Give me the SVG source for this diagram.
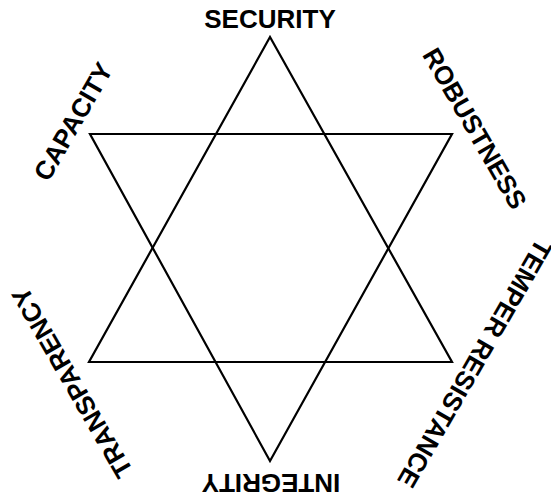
<svg xmlns="http://www.w3.org/2000/svg" width="551" height="500" viewBox="0 0 551 500">
<style>
.lbl{font-family:"Liberation Sans",Arial,sans-serif;font-weight:bold;font-size:26px;fill:#000;text-anchor:middle}
.tri{fill:none;stroke:#000;stroke-width:2.2;stroke-linejoin:miter}
</style>
<rect width="551" height="500" fill="#fff"/>
<g id="connectors">
<polygon class="tri" points="270,37 89,362 452,362"/>
<polygon class="tri" points="90,134 452,134 270,461"/>
</g>
<g id="security"><text class="lbl" x="270" y="28">SECURITY</text></g>
<g id="capacity"><text class="lbl" transform="translate(81,126) rotate(-60)">CAPACITY</text></g>
<g id="robustness"><text class="lbl" transform="translate(467,133) rotate(60)">ROBUSTNESS</text></g>
<g id="transparency"><text class="lbl" transform="translate(80,378) rotate(-120)">TRANSPARENCY</text></g>
<g id="temper"><text class="lbl" transform="translate(467,359) rotate(120)">TEMPER RESISTANCE</text></g>
<g id="integrity"><text class="lbl" transform="translate(271,474) rotate(180)">INTEGRITY</text></g>
</svg>
